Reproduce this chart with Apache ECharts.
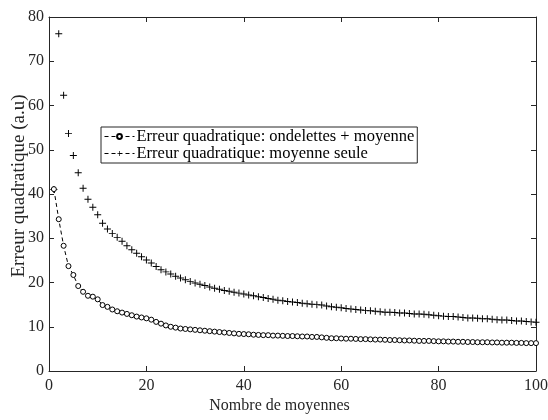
<!DOCTYPE html>
<html><head><meta charset="utf-8">
<script src="https://cdn.jsdelivr.net/npm/echarts@6/dist/echarts.min.js"></script>
<style>html,body{margin:0;padding:0;background:#fff}#c{width:548px;height:420px}</style>
</head><body><div id="c"></div>
<script>
const seriesNames = ['Erreur quadratique: ondelettes + moyenne', 'Erreur quadratique: moyenne seule'];
const xTicks = [0, 20, 40, 60, 80, 100];
const yTicks = [0, 10, 20, 30, 40, 50, 60, 70, 80];
// number of averages n = 1..100
const ondelettes = [
41.1,34.3,28.3,23.7,21.7,19.2,17.9,17.0,16.8,16.2,
14.9,14.5,13.9,13.5,13.2,12.9,12.6,12.3,12.1,11.9,
11.6,11.1,10.7,10.3,10.0,9.8,9.6,9.5,9.4,9.3,
9.2,9.1,9.0,8.9,8.8,8.7,8.6,8.5,8.4,8.35,
8.3,8.2,8.15,8.1,8.1,8.0,8.0,7.95,7.9,7.9,
7.85,7.8,7.8,7.7,7.7,7.6,7.5,7.4,7.4,7.35,
7.3,7.3,7.25,7.2,7.2,7.15,7.1,7.1,7.05,7.0,
7.0,6.95,6.9,6.9,6.85,6.8,6.8,6.8,6.75,6.7,
6.7,6.65,6.65,6.6,6.6,6.55,6.55,6.5,6.5,6.5,
6.45,6.45,6.4,6.4,6.4,6.35,6.35,6.3,6.3,6.3
];
const moyenneSeule = [
41.0,76.2,62.3,53.7,48.7,44.8,41.3,38.8,37.0,35.3,
33.4,32.1,31.1,30.2,29.3,28.3,27.4,26.6,25.8,25.1,
24.4,23.6,22.9,22.4,21.9,21.4,21.0,20.6,20.2,19.9,
19.6,19.3,19.0,18.7,18.5,18.2,18.0,17.8,17.6,17.4,
17.2,17.0,16.8,16.6,16.4,16.2,16.0,15.9,15.7,15.6,
15.5,15.3,15.2,15.1,15.0,14.9,14.7,14.5,14.4,14.3,
14.1,14.0,13.9,13.8,13.7,13.6,13.5,13.4,13.3,13.3,
13.2,13.1,13.1,13.0,12.9,12.9,12.8,12.7,12.6,12.5,
12.4,12.3,12.3,12.2,12.1,12.0,12.0,11.9,11.8,11.8,
11.7,11.6,11.5,11.5,11.4,11.3,11.3,11.2,11.1,11.0
];
const font = 'Liberation Serif';
const plusPath = 'path://M4.3,0H5.7V4.3H10V5.7H5.7V10H4.3V5.7H0V4.3H4.3Z';
const chart = echarts.init(document.getElementById('c'), null, {renderer: 'canvas'});
const axisCommon = {
  axisLine: {show: true, onZero: false, lineStyle: {color: '#262626', width: 1}},
  axisTick: {show: true, inside: true, length: 5, lineStyle: {color: '#262626'}},
  splitLine: {show: false},
  axisLabel: {fontFamily: font, fontSize: 16, color: '#262626'},
  nameTextStyle: {fontFamily: font, fontSize: 16, color: '#262626'},
  nameMoveOverlap: false
};
chart.setOption({
  animation: false,
  backgroundColor: '#fff',
  grid: {left: 49, right: 12, top: 17, bottom: 49, containLabel: false, outerBoundsMode: 'none'},
  legend: {
    orient: 'vertical', left: 101, top: 127,
    data: seriesNames.slice(),
    itemWidth: 30, itemHeight: 6, itemGap: 0,
    padding: [1, 3, 1, 3],
    borderColor: '#262626', borderWidth: 1, backgroundColor: '#fff',
    textStyle: {fontFamily: font, fontSize: 16.5, lineHeight: 14, color: '#000', padding: [0, 0, 0, -3]},
    lineStyle: {opacity: 1, type: [4, 3], width: 1, color: '#000'},
    selectedMode: false
  },
  xAxis: [
    Object.assign({}, axisCommon, {type: 'value', min: 0, max: 100, interval: 20,
      name: 'Nombre de moyennes', nameLocation: 'middle', nameGap: 27,
      nameTextStyle: Object.assign({}, axisCommon.nameTextStyle, {padding: [0, 26, 0, 0]}),
      axisLabel: Object.assign({}, axisCommon.axisLabel, {margin: 7, formatter: v => xTicks.includes(v) ? String(v) : ''})}),
    Object.assign({}, axisCommon, {type: 'value', min: 0, max: 100, interval: 20, position: 'top',
      axisLabel: {show: false}})
  ],
  yAxis: [
    Object.assign({}, axisCommon, {type: 'value', min: 0, max: 80, interval: 10,
      name: 'Erreur quadratique (a.u)', nameLocation: 'middle', nameGap: 20,
      nameTextStyle: Object.assign({}, axisCommon.nameTextStyle, {fontSize: 19, padding: [0, 0, 0, 16]}),
      axisLabel: Object.assign({}, axisCommon.axisLabel, {margin: 5, formatter: v => yTicks.includes(v) ? String(v) : ''})}),
    Object.assign({}, axisCommon, {type: 'value', min: 0, max: 80, interval: 10, position: 'right',
      axisLabel: {show: false}})
  ],
  series: [
    {
      name: seriesNames[0], type: 'line',
      data: ondelettes.map((v, i) => [i + 1, v]),
      symbol: 'circle', symbolSize: 5, showAllSymbol: true,
      itemStyle: {color: '#fff', borderColor: '#000', borderWidth: 1},
      lineStyle: {color: '#000', width: 1, type: [4, 3]},
      z: 3
    },
    {
      name: seriesNames[1], type: 'line',
      data: moyenneSeule.map((v, i) => [i + 1, v]),
      symbol: plusPath, symbolSize: 7, showAllSymbol: true,
      itemStyle: {color: '#000'},
      lineStyle: {color: '#000', width: 1, type: [4, 3], opacity: 0},
      z: 2
    }
  ]
});
</script></body></html>
